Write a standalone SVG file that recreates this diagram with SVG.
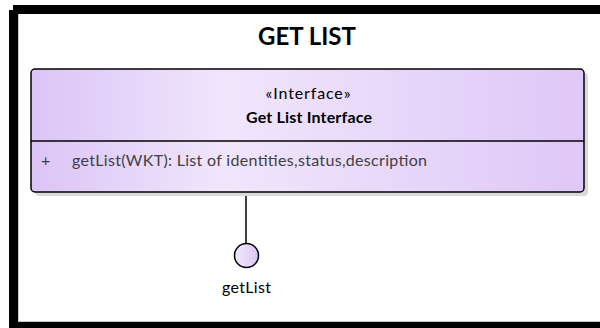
<svg xmlns="http://www.w3.org/2000/svg" width="600" height="328" viewBox="0 0 600 328">
  <defs>
    <linearGradient id="boxGrad" x1="0" y1="0" x2="1" y2="0">
      <stop offset="0" stop-color="#dcc4f7"/>
      <stop offset="0.35" stop-color="#f0e6fc"/>
      <stop offset="1" stop-color="#dfc7f8"/>
    </linearGradient>
    <linearGradient id="circGrad" x1="0" y1="0" x2="1" y2="0">
      <stop offset="0" stop-color="#f2eafd"/>
      <stop offset="1" stop-color="#dcc6f6"/>
    </linearGradient>
    <style>
      .t { font-family: Lato, "Open Sans", "Liberation Sans", sans-serif; }
      .title { font-size: 24px; font-weight: bold; fill: #000; }
      .stereo { font-size: 16px; fill: #000; }
      .name { font-size: 16px; font-weight: bold; fill: #000; }
      .attr { font-size: 16px; fill: #404040; }
      .lbl { font-size: 16px; fill: #000; }
      .edge { stroke: #000; stroke-width: 1.5; fill: none; }
    </style>
  </defs>
  <rect x="0" y="0" width="600" height="328" fill="#ffffff"/>
  <g id="frame">
    <rect x="13" y="5" width="600" height="330" fill="#000"/>
    <rect x="9" y="10" width="600" height="330" fill="#000"/>
    <rect x="18" y="14" width="600" height="308" fill="#ffffff"/>
    <line x1="18.5" y1="14" x2="18.5" y2="322" stroke="#c8c8c8" stroke-width="1"/>
    <line x1="18" y1="321.5" x2="600" y2="321.5" stroke="#c8c8c8" stroke-width="1"/>
    <text class="t title" x="307" y="45" text-anchor="middle">GET LIST</text>
  </g>
  <g id="connectors">
    <line class="edge" x1="246" y1="193" x2="246" y2="243.5"/>
  </g>
  <g id="interface">
    <rect x="35" y="73" width="553" height="123" rx="4" fill="#d9d9d9"/>
    <rect x="31" y="69" width="553" height="123" rx="4" fill="url(#boxGrad)" stroke="#000" stroke-width="1.5"/>
    <line x1="31" y1="141" x2="584" y2="141" stroke="#000" stroke-width="1.5"/>
    <text class="t stereo" x="308" y="99" text-anchor="middle" textLength="85">«Interface»</text>
    <text class="t name" x="309" y="123" text-anchor="middle" textLength="126">Get List Interface</text>
    <text class="t attr" x="41" y="166">+</text>
    <text class="t attr" x="72" y="166" textLength="355">getList(WKT): List of identities,status,description</text>
  </g>
  <g id="getList">
    <circle cx="246.5" cy="255.5" r="12" fill="url(#circGrad)" stroke="#000" stroke-width="1.5"/>
    <text class="t lbl" x="246.5" y="293" text-anchor="middle" textLength="49">getList</text>
  </g>
</svg>
